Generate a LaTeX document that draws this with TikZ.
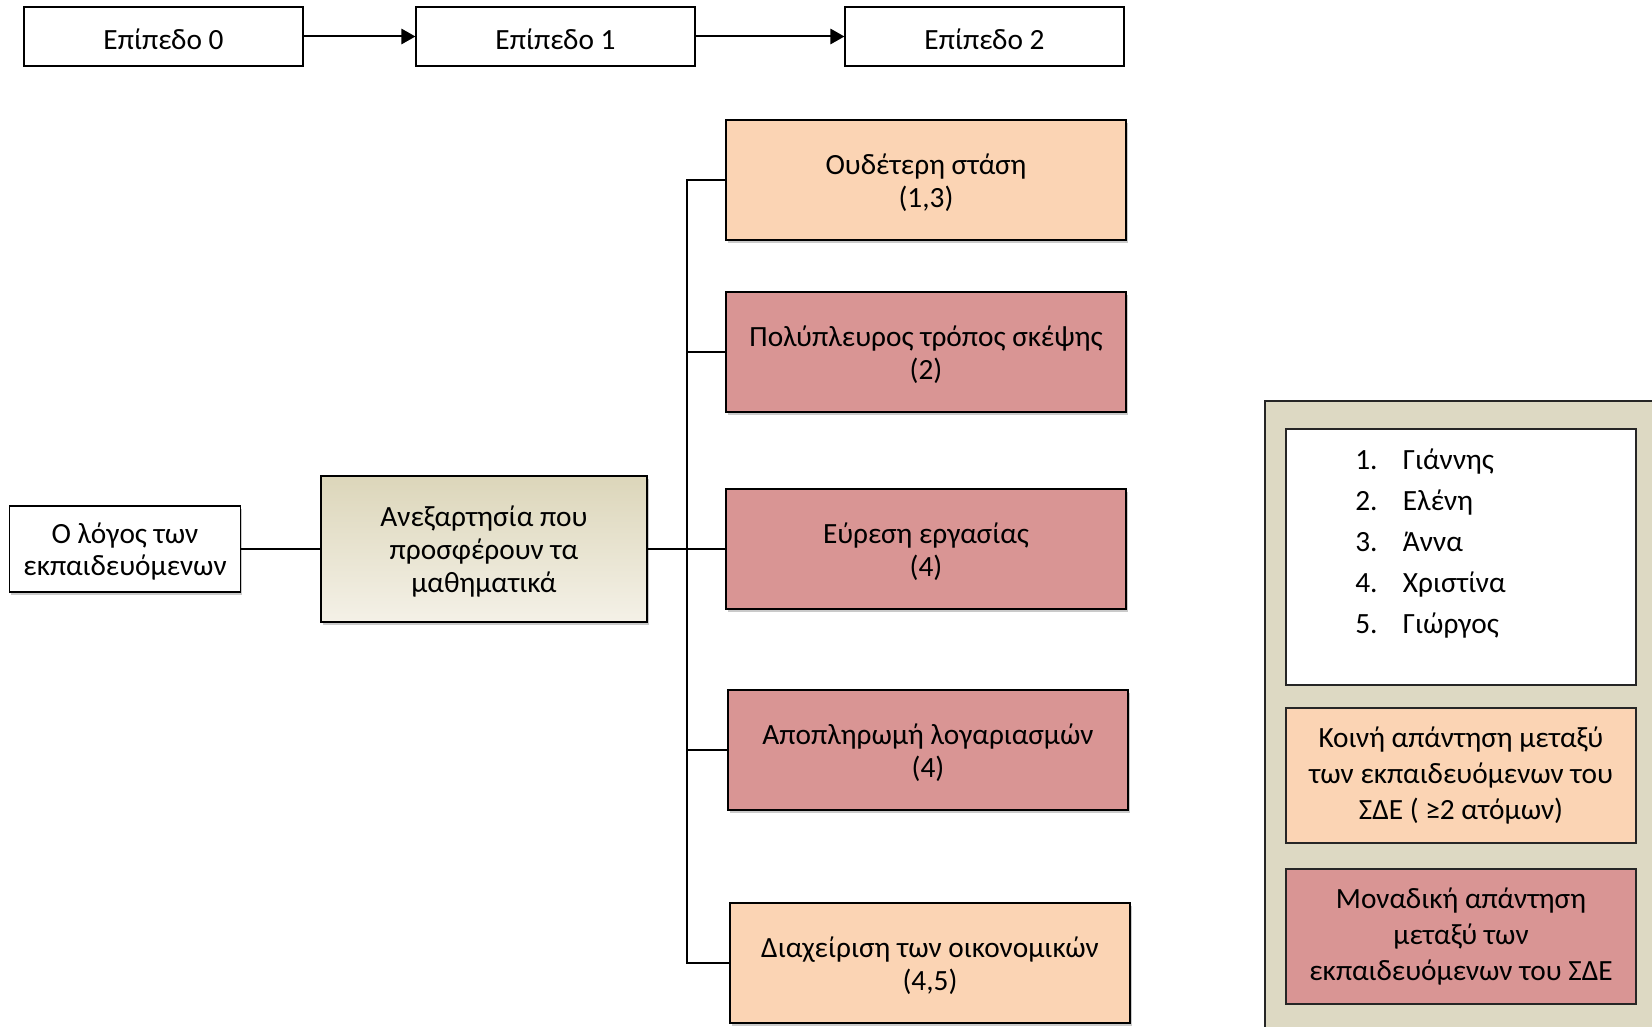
\documentclass[tikz,border=0pt]{standalone}
\usepackage{fontspec}
\setmainfont{Carlito}
\usetikzlibrary{arrows.meta,shadows}
\definecolor{peach}{HTML}{FBD4B4}
\definecolor{rose}{HTML}{D99594}
\definecolor{khaki}{HTML}{DDD9C3}
\definecolor{khakitop}{HTML}{DCD6BA}
\definecolor{khakibot}{HTML}{F4F1E7}
% invisible strut that lowers the first line of a box a little
\newcommand{\topstrut}{\rule{0pt}{19.5pt}}
\tikzset{
  base/.style={draw=black, line width=1.1pt, rectangle, align=center,
    inner sep=0pt, font=\fontsize{22}{24.5}\selectfont},
  levelbox/.style={base, fill=white, line width=0.9pt,
    minimum width=209.25pt, minimum height=44.25pt},
  shade/.style={drop shadow={shadow xshift=1.2pt, shadow yshift=-2pt,
    opacity=0.35, fill=black!60}},
  theme/.style={base, shade, minimum width=300pt, minimum height=90pt},
  common/.style={theme, fill=peach},
  single/.style={theme, fill=rose},
  legendbox/.style={base, draw=black!85, line width=0.9pt,
    minimum width=262.5pt, font=\fontsize{22}{27.3}\selectfont},
  link/.style={line width=1.1pt},
  flow/.style={line width=1.5pt, -{Triangle[length=10.5pt,width=11.5pt]}}
}
\begin{document}
\begin{tikzpicture}[x=0.75pt,y=-0.75pt]
\useasboundingbox (0,0) rectangle (1652,1027);

% levels along the top
\node[levelbox] (l0) at (163.5,36.5) {\topstrut Επίπεδο 0};
\node[levelbox] (l1) at (555.5,36.5) {\topstrut Επίπεδο 1};
\node[levelbox] (l2) at (984.5,36.5) {\topstrut Επίπεδο 2};
\draw[flow] (l0) -- (l1);
\draw[flow] (l1) -- (l2);

% level 0 and level 1
\node[base, shade, fill=white, minimum width=172.9pt, minimum height=64.5pt]
  (speech) at (125,549) {\topstrut Ο λόγος των\\εκπαιδευόμενων};
\node[base, shade, top color=khakitop, bottom color=khakibot,
  minimum width=244.5pt, minimum height=109.5pt]
  (indep) at (484,549) {\topstrut Ανεξαρτησία που\\προσφέρουν τα\\μαθηματικά};

% level 2 themes
\node[common] (r1) at (926,180) {\topstrut Ουδέτερη στάση\\(1,3)};
\node[single] (r2) at (926,352) {\topstrut Πολύπλευρος τρόπος σκέψης\\(2)};
\node[single] (r3) at (926,549) {\topstrut Εύρεση εργασίας\\(4)};
\node[single] (r4) at (928,750) {\topstrut Αποπληρωμή λογαριασμών\\(4)};
\node[common] (r5) at (930,963) {\topstrut Διαχείριση των οικονομικών\\(4,5)};

% connectors
\coordinate (trunk) at (687,549);
\draw[link] (speech) -- (indep);
\foreach \r in {r1,r2,r3,r4,r5}
  \draw[link] (indep.east) -- (trunk) |- (\r.west);

% legend panel
\fill[khaki] (1265,401) rectangle (1660,1035);
\draw[black!85, line width=0.9pt] (1265,1035) -- (1265,401) -- (1660,401);
\node[legendbox, fill=white, minimum height=192pt] (names) at (1461,557) {};
\node[anchor=north west, inner sep=0pt, font=\fontsize{22}{24.5}\selectfont]
  (list) at (1355,440)
  {\renewcommand{\arraystretch}{1.26}%
   \begin{tabular}{@{}l@{\hspace{19pt}}l@{}}
   1. & Γιάννης\\
   2. & Ελένη\\
   3. & Άννα\\
   4. & Χριστίνα\\
   5. & Γιώργος
   \end{tabular}};
\node[legendbox, fill=peach, minimum height=101.25pt] (keycommon) at (1461,775.5)
  {Κοινή απάντηση μεταξύ\\των εκπαιδευόμενων του\\ΣΔΕ ( ≥2 ατόμων)};
\node[legendbox, fill=rose, minimum height=101.25pt] (keysingle) at (1461,936.5)
  {Μοναδική απάντηση\\μεταξύ των\\εκπαιδευόμενων του ΣΔΕ};
\end{tikzpicture}
\end{document}
